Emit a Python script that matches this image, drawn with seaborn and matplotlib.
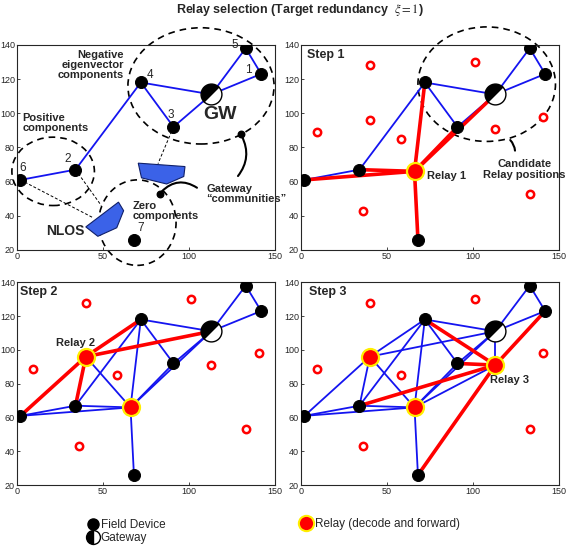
import numpy as np
import pandas as pd
import matplotlib
matplotlib.use("Agg")
import matplotlib.pyplot as plt
import seaborn as sns
from matplotlib.patches import Ellipse, Polygon, FancyArrowPatch
from matplotlib.markers import MarkerStyle
from matplotlib.transforms import Affine2D
from matplotlib.lines import Line2D

# field devices and gateway
node_names = ["6", "2", "4", "3", "GW", "5", "1", "7"]
node_x = [2, 34, 72, 91, 113, 133, 142, 68]
node_y = [61, 67, 118, 92, 111, 138, 123, 26]

# relays chosen at steps 1..3
relay_names = ["R1", "R2", "R3"]
relay_x = [66, 40, 113]
relay_y = [66, 96, 91]

# remaining candidate relay positions
cand_x = [9, 40, 58, 36, 101, 141, 133]
cand_y = [89, 128, 85, 43, 130, 98, 53]

# links
base_links = [("6", "2"), ("2", "4"), ("4", "GW"), ("4", "3"), ("3", "GW"),
              ("GW", "5"), ("5", "1"), ("GW", "1")]
step1_links = [("R1", "6"), ("R1", "2"), ("R1", "4"), ("R1", "7"), ("R1", "3"), ("R1", "GW")]
step2_links = [("R2", "6"), ("R2", "2"), ("R2", "4"), ("R2", "GW")]
step2_extra = [("R2", "R1")]
step3_links = [("R3", "4"), ("R3", "3"), ("R3", "2"), ("R3", "7"), ("R3", "1")]
step3_extra = [("R3", "GW"), ("R3", "R1")]

# NLOS obstacles
nlos1_x = [40, 59, 62, 58, 47]
nlos1_y = [33.5, 48, 43, 33, 28]
nlos2_x = [70.5, 97.7, 97, 87, 72.4]
nlos2_y = [70.8, 68.8, 63, 58.6, 62.2]

pos = {n: (x, y) for n, x, y in zip(node_names, node_x, node_y)}
pos.update({n: (x, y) for n, x, y in zip(relay_names, relay_x, relay_y)})

BLUE = "#1414f0"
RED = "#ff0000"

sns.set_style("ticks")
plt.rcParams["font.family"] = ["Liberation Sans", "DejaVu Sans"]
plt.rcParams["mathtext.fontset"] = "stix"

fig = plt.figure(figsize=(5.68, 5.47), dpi=100)
rects = [[0.030, 0.543, 0.454, 0.375], [0.530, 0.543, 0.454, 0.375],
         [0.030, 0.113, 0.454, 0.371], [0.530, 0.113, 0.454, 0.371]]
axes = [fig.add_axes(r) for r in rects]

gw_marker = MarkerStyle("o", fillstyle="left", transform=Affine2D().rotate_deg(-45))


def draw_links(ax, links, color, lw, z):
    for a, b in links:
        (x1, y1), (x2, y2) = pos[a], pos[b]
        ax.plot([x1, x2], [y1, y2], color=color, lw=lw, zorder=z, solid_capstyle="round")


def draw_nodes(ax, n_relays, candidates):
    fd = pd.DataFrame({"x": node_x, "y": node_y, "name": node_names})
    fd = fd[fd["name"] != "GW"]
    sns.scatterplot(data=fd, x="x", y="y", ax=ax, color="black", s=75,
                    edgecolor="black", zorder=5, legend=False)
    gx, gy = pos["GW"]
    ax.plot([gx], [gy], marker=gw_marker, markersize=15, markerfacecolor="black",
            markerfacecoloralt="white", markeredgecolor="black", markeredgewidth=1,
            ls="", zorder=6)
    if len(candidates[0]):
        cd = pd.DataFrame({"x": candidates[0], "y": candidates[1]})
        sns.scatterplot(data=cd, x="x", y="y", ax=ax, facecolor="white",
                        edgecolor=RED, linewidth=1.8, s=28, zorder=5, legend=False)
    if n_relays:
        rd = pd.DataFrame({"x": relay_x[:n_relays], "y": relay_y[:n_relays]})
        sns.scatterplot(data=rd, x="x", y="y", ax=ax, color=RED, edgecolor="#ffee00",
                        linewidth=1.6, s=150, zorder=7, legend=False)


def style_axes(ax):
    ax.set_xlim(0, 150)
    ax.set_ylim(20, 140)
    ax.set_xticks([0, 50, 100, 150])
    ax.set_yticks([20, 40, 60, 80, 100, 120, 140])
    ax.tick_params(labelsize=6.5, direction="in", length=2, pad=1.5, width=0.6)
    ax.set_xlabel("")
    ax.set_ylabel("")
    for s in ax.spines.values():
        s.set_linewidth(0.8)
        s.set_visible(True)


def dashed_ellipse(ax, c, w, h):
    ax.add_patch(Ellipse(c, w, h, fill=False, ls=(0, (4, 3)), lw=1.2,
                         ec="black", clip_on=False, zorder=2))


def curve(ax, a, b, rad):
    ax.add_patch(FancyArrowPatch(a, b, connectionstyle=f"arc3,rad={rad}",
                                 arrowstyle="-", lw=1.5, color="black",
                                 clip_on=False, zorder=4))


# ---- panel 1: eigenvector components
ax = axes[0]
for px, py in [(nlos1_x, nlos1_y), (nlos2_x, nlos2_y)]:
    ax.add_patch(Polygon(np.column_stack([px, py]), closed=True, fc="#3b62e8",
                         ec="#10206a", lw=0.8, zorder=3))
ax.plot([2, 44], [61, 39], ls=(0, (3, 2)), color="black", lw=0.7, zorder=2)
ax.plot([34, 49], [67, 46], ls=(0, (3, 2)), color="black", lw=0.7, zorder=2)
ax.plot([91, 82], [92, 70.5], ls=(0, (3, 2)), color="black", lw=0.7, zorder=2)
draw_links(ax, base_links, BLUE, 1.3, 3)
draw_nodes(ax, 0, ([], []))
dashed_ellipse(ax, (21, 66), 48, 40)
dashed_ellipse(ax, (70, 36), 45, 50)
dashed_ellipse(ax, (107, 116), 85, 68)
ax.scatter([83, 130], [53, 88], s=22, color="black", zorder=5)
curve(ax, (83, 53), (106, 55.5), -0.45)
curve(ax, (130, 88), (127.5, 62), -0.35)
for name, dx, dy in [("6", 1, 7), ("2", -4.5, 6), ("4", 5.5, 4.5), ("3", -1.5, 7),
                     ("5", -6.5, 2), ("1", -7.5, 2.5), ("7", 4, 7)]:
    x, y = pos[name]
    ax.text(x + dx, y + dy, name, fontsize=8.5, ha="center", va="center", zorder=8)
ax.text(118, 99, "GW", fontsize=14, fontweight="bold", ha="center", va="center", zorder=8)
ax.text(62, 128, "Negative\neigenvector\ncomponents", fontsize=8, fontweight="bold",
        ha="right", va="center", linespacing=1.0)
ax.text(3, 94.5, "Positive\ncomponents", fontsize=8, fontweight="bold",
        ha="left", va="center", linespacing=1.0)
ax.text(67, 43, "Zero\ncomponents", fontsize=8, fontweight="bold",
        ha="left", va="center", linespacing=1.0)
ax.text(110, 52.5, "Gateway\n\u201ccommunities\u201d", fontsize=8, fontweight="bold",
        ha="left", va="center", linespacing=1.0)
ax.text(28, 31, "NLOS", fontsize=10, fontweight="bold", ha="center", va="center")
style_axes(ax)

# ---- panel 2: step 1
ax = axes[1]
draw_links(ax, base_links, BLUE, 1.3, 3)
draw_links(ax, step1_links, RED, 2.6, 4)
draw_nodes(ax, 1, (cand_x + relay_x[1:], cand_y + relay_y[1:]))
dashed_ellipse(ax, (108, 117), 80, 67)
curve(ax, (120.5, 85.4), (124.5, 76.5), -0.25)
ax.text(130, 67, "Candidate\nRelay positions", fontsize=8, fontweight="bold",
        ha="center", va="center", linespacing=1.1)
ax.text(73.5, 63.5, "Relay 1", fontsize=8, fontweight="bold", ha="left", va="center")
ax.text(3.5, 134, "Step 1", fontsize=9, fontweight="bold", ha="left", va="center")
style_axes(ax)

# ---- panel 3: step 2
ax = axes[2]
draw_links(ax, base_links + step1_links + step2_extra, BLUE, 1.3, 3)
draw_links(ax, step2_links, RED, 2.6, 4)
draw_nodes(ax, 2, (cand_x + relay_x[2:], cand_y + relay_y[2:]))
ax.text(34, 104, "Relay 2", fontsize=8, fontweight="bold", ha="center", va="center")
ax.text(1.5, 134, "Step 2", fontsize=9, fontweight="bold", ha="left", va="center")
style_axes(ax)

# ---- panel 4: step 3
ax = axes[3]
draw_links(ax, base_links + step1_links + step2_links + step2_extra + step3_extra, BLUE, 1.3, 3)
draw_links(ax, step3_links, RED, 2.6, 4)
draw_nodes(ax, 3, (cand_x, cand_y))
ax.text(110, 82, "Relay 3", fontsize=8, fontweight="bold", ha="left", va="center")
ax.text(4.5, 134, "Step 3", fontsize=9, fontweight="bold", ha="left", va="center")
style_axes(ax)

fig.text(0.528, 0.981, "Relay selection (Target redundancy  $\\xi=1$)", fontsize=9,
         fontweight="bold", ha="center", va="center")

h_fd = Line2D([], [], marker="o", ls="", color="black", markersize=8)
h_gw = Line2D([], [], marker=MarkerStyle("o", fillstyle="left"), ls="", markersize=10,
              markerfacecolor="black", markerfacecoloralt="white", markeredgecolor="black")
h_rl = Line2D([], [], marker="o", ls="", markersize=11, markerfacecolor=RED,
              markeredgecolor="#ffee00", markeredgewidth=1.5)
fig.legend([h_fd, h_gw], ["Field Device", "Gateway"], loc="center left",
           bbox_to_anchor=(0.14, 0.028), frameon=False, fontsize=8.5,
           handletextpad=0.1, labelspacing=0.1, handlelength=1.2, borderpad=0)
fig.legend([h_rl], ["Relay (decode and forward)"], loc="center left",
           bbox_to_anchor=(0.515, 0.042), frameon=False, fontsize=8.5,
           handletextpad=0.2, handlelength=1.2, borderpad=0)

fig.savefig("out.png", dpi=100)
